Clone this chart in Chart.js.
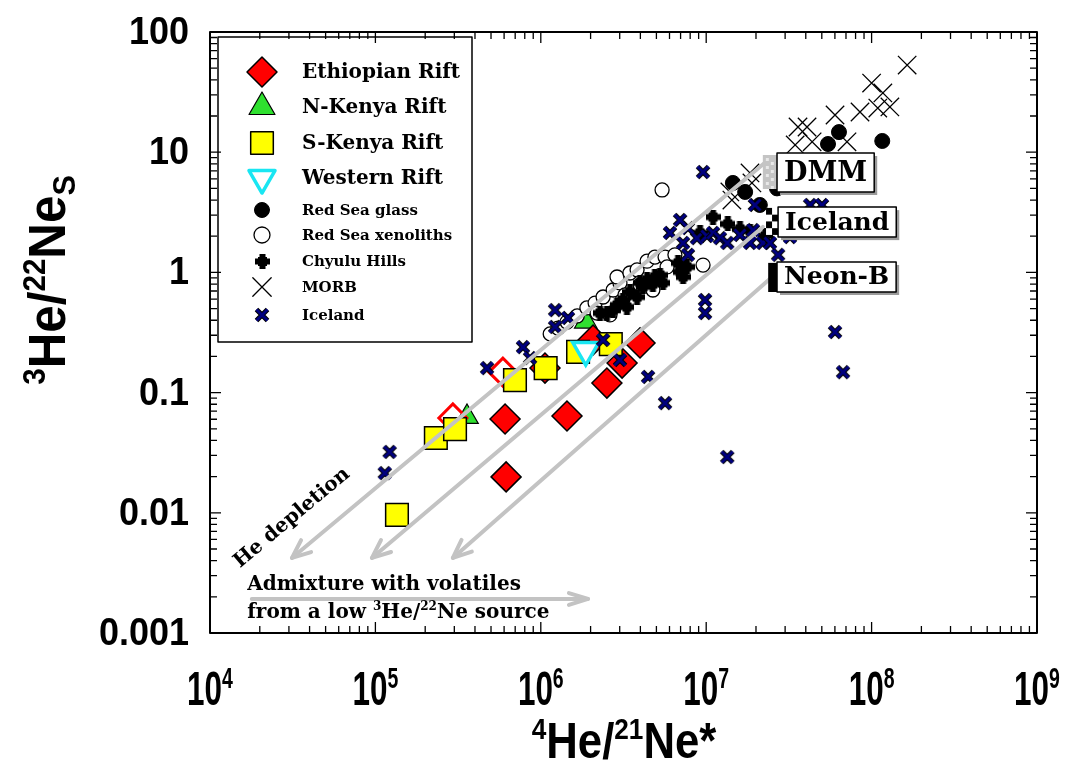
<!DOCTYPE html>
<html><head><meta charset="utf-8">
<script src="https://cdn.jsdelivr.net/npm/chart.js@4.4.0/dist/chart.umd.min.js"></script>
<style>html,body{margin:0;padding:0;background:#fff;}#wrap{width:1074px;height:765px;position:relative;}</style>
</head><body><div id="wrap"><canvas id="c" width="1074" height="765"></canvas></div>
<script>
// ---------- tick labels ----------
const xTickValues = [1e4, 1e5, 1e6, 1e7, 1e8, 1e9];
const xTickExponents = ['4', '5', '6', '7', '8', '9'];
const yTickValues = [100, 10, 1, 0.1, 0.01, 0.001];
const yTickLabels = ['100', '10', '1', '0.1', '0.01', '0.001'];

// ---------- series ([4He/21Ne*, 3He/22Ne]) ----------
const ethiopianRift = [[6.08e5,0.0603],[1.44e6,0.0638],[6.17e5,0.0199],[2.51e6,0.120],[3.10e6,0.176],[3.98e6,0.259],[2.07e6,0.274],[1.06e6,0.16]];
const ethiopianRiftOpen = [[5.9e5,0.148],[2.94e5,0.0615]];
const nKenyaRift = [[3.58e5,0.0627],[1.87e6,0.39]];
const sKenyaRift = [[2.32e5,0.0419],[3.03e5,0.0497],[6.98e5,0.127],[1.07e6,0.160],[1.68e6,0.218],[2.65e6,0.253],[1.35e5,0.0096]];
const westernRift = [[1.87e6,0.226]];
const redSeaGlass = [[1.45e7,5.55],[1.72e7,4.67],[2.11e7,3.64],[2.68e7,5.0],[5.45e7,11.7],[6.35e7,14.7],[1.16e8,12.4]];
const redSeaXenoliths = [[1.14e6,0.308],[1.27e6,0.344],[1.44e6,0.386],[1.66e6,0.434],[1.90e6,0.506],[2.13e6,0.556],[2.38e6,0.624],[2.74e6,0.714],[3.01e6,0.817],[2.89e6,0.916],[3.46e6,0.989],[3.82e6,1.05],[4.39e6,1.24],[4.90e6,1.34],[5.64e6,1.34],[5.80e6,1.11],[9.57e6,1.15],[2.62e6,0.443],[4.76e6,0.714],[5.41e6,4.85],[3.98e6,0.785],[2.19e6,0.459],[3.23e6,0.649],[6.47e6,1.40]];
const chyuluHills = [[2.28e6,0.459],[2.51e6,0.459],[2.74e6,0.486],[2.89e6,0.535],[3.14e6,0.589],[3.32e6,0.515],[3.46e6,0.687],[3.82e6,0.624],[3.98e6,0.817],[4.15e6,0.757],[4.39e6,0.865],[4.76e6,0.80],[4.90e6,0.916],[5.26e6,0.951],[5.48e6,0.817],[6.76e6,1.20],[6.95e6,1.01],[7.25e6,0.916],[7.66e6,1.11],[9.18e6,2.13],[1.10e7,2.89],[1.35e7,2.53],[1.60e7,2.30],[1.84e7,2.21],[2.27e7,2.01]];
const morb = [[1.64e8,53.1],[1.00e8,37.6],[1.17e8,31.1],[1.29e8,23.8],[1.09e8,23.3],[8.51e7,21.6],[6.01e7,20.4],[3.59e7,16.2],[4.07e7,16.2],[3.45e7,11.5],[7.10e7,12.2],[4.37e7,12.2],[1.84e7,6.72],[1.89e7,5.55],[1.39e7,4.67],[1.43e7,4.0]];
const iceland = [[1.14e5,0.0214],[1.22e5,0.0321],[4.73e5,0.160],[7.80e5,0.239],[8.61e5,0.194],[1.22e6,0.486],[1.22e6,0.352],[1.46e6,0.418],[2.38e6,0.274],[3.01e6,0.187],[4.45e6,0.135],[5.64e6,0.0818],[1.34e7,0.0291],[6.01e7,0.319],[6.72e7,0.148],[9.84e6,0.589],[9.84e6,0.459],[9.57e6,6.84],[1.97e7,3.64],[2.72e7,1.40],[6.95e6,2.73],[6.04e6,2.13],[7.24e6,1.76],[7.76e6,1.40],[8.79e6,1.93],[1.01e7,2.01],[1.10e7,2.13],[1.21e7,1.93],[1.34e7,1.76],[1.60e7,2.05],[1.84e7,1.76],[1.92e7,2.25],[2.20e7,1.76],[2.43e7,1.76],[3.21e7,1.97],[3.44e7,2.17],[4.25e7,3.64],[5.01e7,3.64],[7.76e6,2.34]];

// ---------- annotations (data coordinates) ----------
const arrowStartX = [2.37e7, 2.20e7, 2.50e7, 1.79e4];
const arrowStartY = [8.61, 2.39, 0.916, 0.00192];
const arrowEndX = [3.13e4, 9.53e4, 2.94e5, 1.93e6];
const arrowEndY = [0.00421, 0.00421, 0.00421, 0.00192];
const refLabels = ['DMM', 'Iceland', 'Neon-B'];
const refLabelX = [2.68e7, 2.72e7, 2.68e7];
const refLabelY = [6.78, 2.62, 0.916];
const refBarX0 = [2.20e7, 2.30e7, 2.37e7];
const refBarX1 = [2.68e7, 2.72e7, 2.68e7];
const refBarY0 = [9.48, 3.44, 1.20];
const refBarY1 = [4.94, 2.05, 0.687];

const toXY = a => a.map(p => ({x: p[0], y: p[1]}));

// custom marker images
function makeImg(size, draw) {
  const c = document.createElement('canvas');
  c.width = size; c.height = size;
  draw(c.getContext('2d'), size);
  return c;
}
const plusImg = makeImg(15, (g, s) => {
  g.fillStyle = '#000';
  g.fillRect(0, 4.5, 15, 6);
  g.fillRect(4.5, 0, 6, 15);
  g.fillRect(3, 3, 9, 9);
});
const iceImg = makeImg(18, (g, s) => {
  g.lineCap = 'butt';
  g.beginPath(); g.moveTo(3.5, 3.5); g.lineTo(14.5, 14.5); g.moveTo(14.5, 3.5); g.lineTo(3.5, 14.5);
  g.strokeStyle = '#000'; g.lineWidth = 5; g.stroke();
  g.strokeStyle = '#00007f'; g.lineWidth = 3; g.stroke();
});

const SERIF = '"DejaVu Serif", serif';
const SANS = '"Liberation Sans", Arial, sans-serif';

const datasets = [
  {label: 'Iceland', data: toXY(iceland), pointStyle: iceImg, order: 0},
  {label: 'Western Rift', data: toXY(westernRift), pointStyle: 'triangle', rotation: 180, radius: 15, backgroundColor: '#ffffff', borderColor: '#19e6f2', borderWidth: 3.5, order: 1},
  {label: 'S-Kenya Rift', data: toXY(sKenyaRift), pointStyle: 'rect', radius: 16, backgroundColor: '#ffff00', borderColor: '#000', borderWidth: 1.5, order: 2},
  {label: 'Ethiopian Rift', data: toXY(ethiopianRift), pointStyle: 'rectRot', radius: 15, backgroundColor: '#ff0000', borderColor: '#000', borderWidth: 1.5, order: 4},
  {label: 'Ethiopian Rift (open)', data: toXY(ethiopianRiftOpen), pointStyle: 'rectRot', radius: 14, backgroundColor: 'rgba(255,255,255,0)', borderColor: '#ff0000', borderWidth: 3, order: 5},
  {label: 'Chyulu Hills', data: toXY(chyuluHills), pointStyle: plusImg, order: 6},
  {label: 'Red Sea glass', data: toXY(redSeaGlass), pointStyle: 'circle', radius: 7.5, backgroundColor: '#000', borderColor: '#000', borderWidth: 1, order: 7},
  {label: 'Red Sea xenoliths', data: toXY(redSeaXenoliths), pointStyle: 'circle', radius: 7, backgroundColor: '#fff', borderColor: '#000', borderWidth: 1.3, order: 8},
  {label: 'MORB', data: toXY(morb), pointStyle: 'crossRot', radius: 13, backgroundColor: '#000', borderColor: '#000', borderWidth: 1.3, order: 9},
  {label: 'N-Kenya Rift', data: toXY(nKenyaRift), pointStyle: 'triangle', radius: 13, backgroundColor: '#2fe02f', borderColor: '#000', borderWidth: 1.2, order: 10}
];

const legendEntries = [
  {ds: 'Ethiopian Rift', text: 'Ethiopian Rift', size: 20, y: 72, r: 15},
  {ds: 'N-Kenya Rift', text: 'N-Kenya Rift', size: 20, y: 107, r: 15},
  {ds: 'S-Kenya Rift', text: 'S-Kenya Rift', size: 20, y: 143, r: 16},
  {ds: 'Western Rift', text: 'Western Rift', size: 20, y: 178, r: 15},
  {ds: 'Red Sea glass', text: 'Red Sea glass', size: 15, y: 210, r: 7.5},
  {ds: 'Red Sea xenoliths', text: 'Red Sea xenoliths', size: 15, y: 235, r: 8},
  {ds: 'Chyulu Hills', text: 'Chyulu Hills', size: 15, y: 261, r: 0},
  {ds: 'MORB', text: 'MORB', size: 15, y: 287, r: 13},
  {ds: 'Iceland', text: 'Iceland', size: 15, y: 315, r: 0}
];

function shapePath(ctx, style, r, rot, x, y) {
  ctx.beginPath();
  const rad = (rot || 0) * Math.PI / 180;
  if (style === 'circle') { ctx.arc(x, y, r, 0, Math.PI * 2); return true; }
  if (style === 'rect') { const s = Math.SQRT1_2 * r; ctx.rect(x - s, y - s, 2 * s, 2 * s); return true; }
  if (style === 'rectRot') { ctx.moveTo(x - r, y); ctx.lineTo(x, y - r); ctx.lineTo(x + r, y); ctx.lineTo(x, y + r); ctx.closePath(); return true; }
  if (style === 'triangle') {
    let a = rad;
    ctx.moveTo(x + Math.sin(a) * r, y - Math.cos(a) * r);
    a += 2 * Math.PI / 3; ctx.lineTo(x + Math.sin(a) * r, y - Math.cos(a) * r);
    a += 2 * Math.PI / 3; ctx.lineTo(x + Math.sin(a) * r, y - Math.cos(a) * r);
    ctx.closePath(); return true;
  }
  if (style === 'crossRot') {
    const o = r * Math.SQRT1_2;
    ctx.moveTo(x - o, y - o); ctx.lineTo(x + o, y + o);
    ctx.moveTo(x + o, y - o); ctx.lineTo(x - o, y + o);
    return false;
  }
  return false;
}

function drawMarker(ctx, ds, r, x, y) {
  if (typeof ds.pointStyle !== 'string') {
    const im = ds.pointStyle;
    ctx.drawImage(im, Math.round(x - im.width / 2), Math.round(y - im.height / 2));
    return;
  }
  const closed = shapePath(ctx, ds.pointStyle, r, ds.rotation, x, y);
  if (closed) { ctx.fillStyle = ds.backgroundColor; ctx.fill(); }
  ctx.lineWidth = ds.borderWidth; ctx.strokeStyle = ds.borderColor; ctx.stroke();
}

function runsWidth(ctx, runs, size, fam) {
  let w = 0;
  for (const r of runs) { ctx.font = `bold ${size * (r.s || 1)}px ${fam}`; w += ctx.measureText(r.t).width; }
  return w;
}
function drawRuns(ctx, runs, size, fam, x, y) {
  let cx = x;
  for (const r of runs) {
    ctx.font = `bold ${size * (r.s || 1)}px ${fam}`;
    ctx.fillText(r.t, cx, y + (r.dy || 0) * size);
    cx += ctx.measureText(r.t).width;
  }
}

function drawArrow(ctx, x0, y0, x1, y1, head, ang) {
  ctx.beginPath(); ctx.moveTo(x0, y0); ctx.lineTo(x1, y1); ctx.stroke();
  const a = Math.atan2(y1 - y0, x1 - x0);
  ctx.beginPath();
  ctx.moveTo(x1 - head * Math.cos(a - ang), y1 - head * Math.sin(a - ang));
  ctx.lineTo(x1, y1);
  ctx.lineTo(x1 - head * Math.cos(a + ang), y1 - head * Math.sin(a + ang));
  ctx.stroke();
}

const decorPlugin = {
  id: 'decor',
  afterDatasetsDraw(chart) {
    const ctx = chart.ctx, xs = chart.scales.x, ys = chart.scales.y, ca = chart.chartArea;
    ctx.save();
    ctx.textBaseline = 'alphabetic';
    // gray arrows
    ctx.strokeStyle = '#c3c3c3'; ctx.lineWidth = 4; ctx.lineCap = 'round'; ctx.lineJoin = 'round';
    for (let i = 0; i < arrowStartX.length; i++) {
      drawArrow(ctx, xs.getPixelForValue(arrowStartX[i]), ys.getPixelForValue(arrowStartY[i]),
        xs.getPixelForValue(arrowEndX[i]), ys.getPixelForValue(arrowEndY[i]), 20, i === 3 ? 0.3 : 0.4);
    }
    // reference boxes
    for (let i = 0; i < refLabels.length; i++) {
      const bx0 = xs.getPixelForValue(refBarX0[i]), bx1 = xs.getPixelForValue(refBarX1[i]);
      const by0 = ys.getPixelForValue(refBarY0[i]), by1 = ys.getPixelForValue(refBarY1[i]);
      const bw = bx1 - bx0, bh = by1 - by0;
      if (i === 0) {
        ctx.fillStyle = '#c4c4c4'; ctx.fillRect(bx0, by0, bw, bh);
        ctx.fillStyle = '#e8e8e8';
        for (let yy = by0 + 3; yy < by1 - 3; yy += 8) { ctx.fillRect(bx0 + 3, yy, 3, 3); ctx.fillRect(bx0 + 8, yy + 4, 3, 3); }
      } else if (i === 1) {
        const cs = bw / 2, rows = Math.round(bh / cs);
        const ch = bh / rows;
        ctx.fillStyle = '#fff'; ctx.fillRect(bx0, by0, bw, bh);
        ctx.fillStyle = '#000';
        for (let r = 0; r < rows; r++) for (let c = 0; c < 2; c++) if ((r + c) % 2 === 0) ctx.fillRect(bx0 + c * cs, by0 + r * ch, cs, ch);
      } else {
        ctx.fillStyle = '#000'; ctx.fillRect(bx0, by0, bw, bh);
      }
      const fs = i === 0 ? 27 : 25;
      ctx.font = `bold ${fs}px ${SERIF}`;
      const tw = ctx.measureText(refLabels[i]).width;
      const h = i === 0 ? 39 : 30;
      const lx = xs.getPixelForValue(refLabelX[i]), ly = ys.getPixelForValue(refLabelY[i]);
      const w = tw + 14;
      ctx.fillStyle = '#9a9a9a'; ctx.fillRect(lx + 3, ly - h / 2 + 3, w, h);
      ctx.fillStyle = '#fff'; ctx.fillRect(lx, ly - h / 2, w, h);
      ctx.strokeStyle = '#000'; ctx.lineWidth = 1.5; ctx.strokeRect(lx, ly - h / 2, w, h);
      ctx.fillStyle = '#000'; ctx.textAlign = 'left'; ctx.textBaseline = 'middle';
      ctx.fillText(refLabels[i], lx + 7, ly + 1);
    }
    // annotation texts
    ctx.fillStyle = '#000'; ctx.textBaseline = 'alphabetic';
    ctx.save();
    ctx.translate(xs.getPixelForValue(3.13e4), ys.getPixelForValue(0.00906));
    ctx.rotate(-40 * Math.PI / 180);
    ctx.font = `bold 20px ${SERIF}`; ctx.textAlign = 'center'; ctx.textBaseline = 'middle';
    ctx.fillText('He depletion', 0, 0);
    ctx.restore();
    ctx.textAlign = 'left'; ctx.textBaseline = 'alphabetic';
    const ax = xs.getPixelForValue(1.68e4);
    ctx.font = `bold 20px ${SERIF}`;
    ctx.fillText('Admixture with volatiles', ax, ys.getPixelForValue(0.00228));
    drawRuns(ctx, [{t: 'from a low '}, {t: '3', s: 0.6, dy: -0.4}, {t: 'He/'}, {t: '22', s: 0.6, dy: -0.4}, {t: 'Ne source'}], 20, SERIF, ax, ys.getPixelForValue(0.00133));

    // legend
    const L = {x0: 218, y0: 37, x1: 472, y1: 342};
    ctx.fillStyle = '#fff'; ctx.fillRect(L.x0, L.y0, L.x1 - L.x0, L.y1 - L.y0);
    ctx.strokeStyle = '#000'; ctx.lineWidth = 1.5; ctx.strokeRect(L.x0, L.y0, L.x1 - L.x0, L.y1 - L.y0);
    for (const e of legendEntries) {
      const ds = chart.data.datasets.find(d => d.label === e.ds);
      drawMarker(ctx, ds, e.r, 262, e.y);
      ctx.fillStyle = '#000'; ctx.font = `bold ${e.size}px ${SERIF}`; ctx.textAlign = 'left'; ctx.textBaseline = 'middle';
      ctx.fillText(e.text, 302, e.y + 1);
    }

    // frame
    ctx.strokeStyle = '#000'; ctx.lineWidth = 2; ctx.lineCap = 'butt';
    ctx.strokeRect(ca.left, ca.top, ca.right - ca.left, ca.bottom - ca.top);
    // ticks (inside, all four sides)
    ctx.lineWidth = 1.3;
    ctx.beginPath();
    for (let e = 4; e <= 9; e++) for (let m = 1; m <= 9; m++) {
      const v = m * Math.pow(10, e); if (v > 1e9) break;
      const px = xs.getPixelForValue(v), len = m === 1 ? 11 : 7;
      ctx.moveTo(px, ca.bottom); ctx.lineTo(px, ca.bottom - len);
      ctx.moveTo(px, ca.top); ctx.lineTo(px, ca.top + len);
    }
    for (let e = -3; e <= 2; e++) for (let m = 1; m <= 9; m++) {
      const v = m * Math.pow(10, e); if (v > 100) break;
      const py = ys.getPixelForValue(v), len = m === 1 ? 11 : 7;
      ctx.moveTo(ca.left, py); ctx.lineTo(ca.left + len, py);
      ctx.moveTo(ca.right, py); ctx.lineTo(ca.right - len, py);
    }
    ctx.stroke();

    // y tick labels
    ctx.fillStyle = '#000'; ctx.textAlign = 'right'; ctx.textBaseline = 'middle';
    ctx.font = `bold 36px ${SANS}`;
    yTickValues.forEach((v, i) => {
      const py = ys.getPixelForValue(v);
      ctx.save(); ctx.translate(189, py); ctx.scale(1, 1.1);
      ctx.fillText(yTickLabels[i], 0, 1); ctx.restore();
    });
    // x tick labels
    ctx.textAlign = 'left'; ctx.textBaseline = 'alphabetic';
    xTickValues.forEach((v, i) => {
      const px = xs.getPixelForValue(v);
      const runs = [{t: '10'}, {t: xTickExponents[i], s: 0.62, dy: -0.36}];
      ctx.save(); ctx.translate(px, 705); ctx.scale(0.85, 1.3);
      const w = runsWidth(ctx, runs, 37, SANS);
      drawRuns(ctx, runs, 37, SANS, -w / 2, 0);
      ctx.restore();
    });
    // axis titles
    const xt = [{t: '4', s: 0.6, dy: -0.38}, {t: 'He/'}, {t: '21', s: 0.6, dy: -0.38}, {t: 'Ne*'}];
    ctx.save(); ctx.translate(624, 758); ctx.scale(0.95, 1.1);
    const xw = runsWidth(ctx, xt, 46, SANS);
    drawRuns(ctx, xt, 46, SANS, -xw / 2, 0);
    ctx.restore();
    const yt = [{t: '3', s: 0.6, dy: -0.38}, {t: 'He/'}, {t: '22', s: 0.6, dy: -0.38}, {t: 'Ne'}, {t: 'S', s: 0.62, dy: 0.2}];
    ctx.save(); ctx.translate(65, 280); ctx.rotate(-Math.PI / 2); ctx.scale(1.05, 1.1);
    const yw = runsWidth(ctx, yt, 47, SANS);
    drawRuns(ctx, yt, 47, SANS, -yw / 2, 0);
    ctx.restore();
    ctx.restore();
  }
};

new Chart(document.getElementById('c'), {
  type: 'scatter',
  data: {datasets},
  options: {
    responsive: false, animation: false, devicePixelRatio: 1,
    layout: {padding: {left: 210, top: 32, right: 37, bottom: 132}},
    plugins: {legend: {display: false}, tooltip: {enabled: false}},
    events: [],
    scales: {
      x: {type: 'logarithmic', min: 1e4, max: 1e9, display: false},
      y: {type: 'logarithmic', min: 1e-3, max: 100, display: false}
    }
  },
  plugins: [decorPlugin]
});
</script></body></html>
